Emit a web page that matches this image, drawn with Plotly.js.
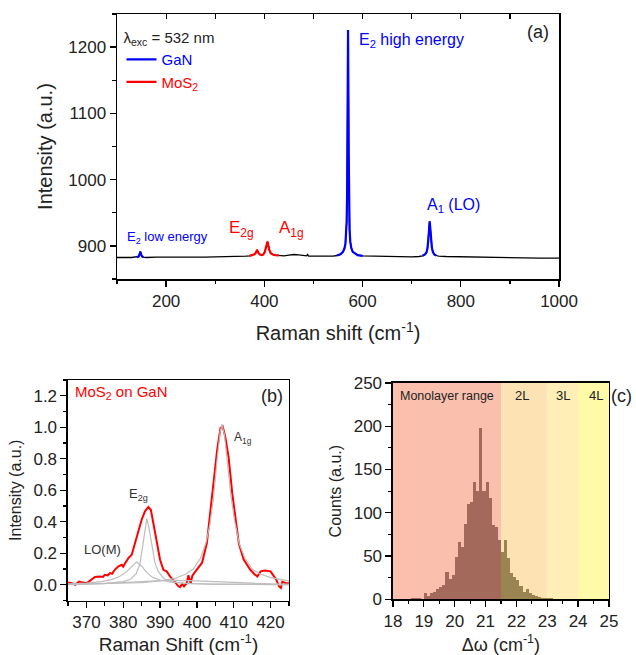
<!DOCTYPE html>
<html>
<head>
<meta charset="utf-8">
<script src="https://cdn.plot.ly/plotly-3.0.1.min.js"></script>
<style>html,body{margin:0;padding:0;background:#fff;}#chart{width:636px;height:655px;}</style>
</head>
<body>
<div id="chart"></div>
<script>
// ---------- Panel (a): Raman spectrum ----------
const specX = [100,110,120,130,140,144,146,147.5,149,151,154,160,180,200,220,240,260,280,300,320,340,355,
  362,370,376,380,383,385,386.5,388,391,395,398,401,403,405,406.5,408,410,413,417,422,430,440,
  450,460,470,480,486,488,490,500,520,540,548,555,560,563,565,566.5,567.5,568.5,569.3,570,570.4,
  571,571.7,572.5,573.5,575,577,580,585,590,600,620,640,660,680,700,715,722,727,730,732,734,735.5,
  736.5,737.5,739,741,743,746,750,755,770,800,830,860,900,930,960,1000];
const specY = [882.5,882,882.5,882.5,883,884,888,891.5,887,884,883,882.5,883,882.5,883,883,882.5,883,883.5,883.5,884,884,
  884.5,885,886,887.5,890,894,892,889,887,886,887,891,897,904,906.5,901,894,889,887,886,885.5,885,
  886,887,886.5,885,885,887,884.5,884.5,884,884.5,885.5,887.5,891,896,903,915,935,980,1080,1190,1226,
  1150,1040,960,925,906,897,891,888,886,885,884.5,884,884,883.5,883.5,884,885,887,890,896,910,928,
  937,930,912,898,891,887,885.5,884.5,884,883.5,883,882.5,882,882,881.5,881.5];
const ganRanges = [[140,154],[541,600],[719,753]];
const mos2Ranges = [[363,438]];

// ---------- Panel (b): MoS2 on GaN ----------
const bX = [365,366,367,368,369,370,370.5,371.4,372.3,373.6,374.5,375,375.8,376.4,377,377.7,378.6,379.6,380,380.5,
  381.4,382.3,383.2,384.1,385,385.9,386.8,387.5,388.2,389.1,390,390.9,391.8,392.7,393.5,394.1,395,395.4,396,396.5,
  397.2,397.7,398.3,398.8,399.4,400,401.4,402.7,403.6,404.5,405.5,406.4,407,407.7,408.6,409.6,410.5,411.4,412.7,
  414.5,415.5,416.4,417.3,418.5,420,420.9,421.6,422.3,422.8,423.2,424.1,425];
const bY = [0.015,0.01,0.0,0.02,0.015,0.01,0.017,0.036,0.049,0.053,0.05,0.063,0.06,0.074,0.07,0.095,0.116,0.127,0.115,0.137,
  0.169,0.19,0.265,0.35,0.413,0.466,0.493,0.476,0.39,0.265,0.159,0.095,0.085,0.053,0.03,0.01,-0.01,-0.015,0.005,-0.01,
  0.01,0.06,0.01,0.06,0.08,0.095,0.14,0.265,0.455,0.667,0.857,0.995,1.005,0.94,0.81,0.58,0.41,0.26,0.16,
  0.095,0.07,0.053,0.085,0.09,0.085,0.053,0.03,-0.01,-0.02,0.02,0.01,0.01];
const fitBgX = [365,375,385,392,398,405,415,425];
const fitBgY = [0.0,0.008,0.02,0.028,0.026,0.02,0.01,0.004];
const fitLOX = [365,370,374,377,379,381,382.5,383.6,385,386.5,388,390,393,398,405,415,425];
const fitLOY = [0.004,0.01,0.02,0.034,0.052,0.085,0.12,0.144,0.118,0.075,0.047,0.03,0.016,0.008,0.004,0.002,0.001];
const fitE2gX = [365,375,380,382,383.5,384.5,385.3,386,386.4,387,387.8,388.6,389.5,391,393,397,405,425];
const fitE2gY = [0.002,0.007,0.02,0.035,0.07,0.13,0.25,0.38,0.42,0.36,0.24,0.14,0.085,0.04,0.02,0.008,0.003,0.001];
const fitA1gX = [365,375,385,390,394,397,399,401,402.5,403.5,404.5,405.5,406.3,406.8,407.5,408.3,409.2,410.2,411.5,413,415,417,420,425];
const fitA1gY = [0.004,0.007,0.014,0.024,0.04,0.068,0.1,0.17,0.27,0.38,0.55,0.8,0.97,1.02,0.95,0.77,0.57,0.41,0.26,0.17,0.1,0.07,0.045,0.025];

// ---------- Panel (c): histogram of delta omega ----------
const binStart = [18.6,18.7,18.8,18.9,19.0,19.1,19.2,19.3,19.4,19.5,19.6,19.7,19.8,19.9,20.0,20.1,20.2,20.3,20.4,20.5,
  20.6,20.7,20.8,20.9,21.0,21.1,21.2,21.3,21.4,21.5,21.6,21.7,21.8,21.9,22.0,22.1,22.2,22.3,22.4,22.5,22.6,22.7,22.8,22.9,23.0,23.1];
const binCounts = [1,1,1,0,7,4,7,9,12,14,17,31,23,28,49,66,60,87,110,112,
  136,125,198,125,135,117,86,83,69,55,69,48,30,26,22,15,8,12,7,5,4,3,2,1,2,2];
const binWidth = 0.1;
const bandEdges = [18, 21.5, 23, 24, 25];
const bandLabels = ['Monolayer range', '2L', '3L', '4L'];
const bandColors = ['#fbbfae', '#fde2b3', '#ffefb6', '#fffaa8'];

// ---------- build ----------
const FONT = 'Liberation Sans, Arial, sans-serif';
function inRanges(x, ranges){ return ranges.some(r => x >= r[0] && x <= r[1]); }
const ganY = specX.map((x,i) => inRanges(x, ganRanges) ? specY[i] : null);
const mosY = specX.map((x,i) => inRanges(x, mos2Ranges) ? specY[i] : null);

const traces = [
  {x: specX, y: specY, xaxis:'x', yaxis:'y', mode:'lines', line:{color:'#000', width:1.3}, showlegend:false, hoverinfo:'skip'},
  {x: specX, y: ganY, xaxis:'x', yaxis:'y', mode:'lines', line:{color:'#0000ff', width:2.2}, connectgaps:false,
   name:'<span style="color:#0000ff">GaN</span>'},
  {x: specX, y: mosY, xaxis:'x', yaxis:'y', mode:'lines', line:{color:'#ff0000', width:2.2}, connectgaps:false,
   name:'<span style="color:#ff0000">MoS<sub>2</sub></span>'},
  {x: [], y: [], xaxis:'x4', yaxis:'y', showlegend:false, hoverinfo:'skip'},
  {x: bX, y: bY, xaxis:'x2', yaxis:'y2', mode:'lines', line:{color:'#ff0000', width:2}, showlegend:false},
  {x: fitBgX, y: fitBgY, xaxis:'x2', yaxis:'y2', mode:'lines', line:{color:'#bdbdbd', width:1.2, shape:'spline'}, showlegend:false},
  {x: fitLOX, y: fitLOY, xaxis:'x2', yaxis:'y2', mode:'lines', line:{color:'#bdbdbd', width:1.2}, showlegend:false},
  {x: fitE2gX, y: fitE2gY, xaxis:'x2', yaxis:'y2', mode:'lines', line:{color:'#bdbdbd', width:1.2}, showlegend:false},
  {x: fitA1gX, y: fitA1gY, xaxis:'x2', yaxis:'y2', mode:'lines', line:{color:'#bdbdbd', width:1.2}, showlegend:false},
  {type:'bar', x: binStart.map(b => b + binWidth/2), y: binCounts, width: binWidth, xaxis:'x3', yaxis:'y3',
   marker:{color: binStart.map(b => (b + binWidth/2) < bandEdges[1] ? '#a3695a' : '#9a8552'), line:{width:0}}, showlegend:false}
];

const axBase = {
  showline:true, linecolor:'#000', linewidth:1.5, mirror:true, showgrid:false, zeroline:false,
  ticks:'outside', ticklen:6, tickwidth:1.3, tickcolor:'#000',
  tickfont:{family:FONT, size:17, color:'#222'}
};
function ax(o){ return Object.assign({}, axBase, o); }

const shapes = [];
for (let i = 0; i < bandLabels.length; i++) {
  shapes.push({type:'rect', xref:'x3', yref:'y3', x0:bandEdges[i], x1:bandEdges[i+1], y0:0, y1:250,
    fillcolor:bandColors[i], line:{width:0}, layer:'below'});
}

const annotations = [
  {xref:'x', yref:'y', x:589, y:1210, xanchor:'left', yanchor:'middle', showarrow:false,
   text:'E<sub>2</sub> high energy', font:{family:FONT, size:16, color:'#0000ff'}},
  {xref:'x', yref:'y', x:727, y:961, xanchor:'left', yanchor:'middle', showarrow:false,
   text:'A<sub>1</sub> (LO)', font:{family:FONT, size:16, color:'#0000ff'}},
  {xref:'x', yref:'y', x:117, y:913, xanchor:'left', yanchor:'middle', showarrow:false,
   text:'E<sub>2</sub> low energy', font:{family:FONT, size:13, color:'#0000ff'}},
  {xref:'x', yref:'y', x:324, y:926, xanchor:'left', yanchor:'middle', showarrow:false,
   text:'E<sub>2g</sub>', font:{family:FONT, size:17, color:'#ff0000'}},
  {xref:'x', yref:'y', x:425, y:926, xanchor:'left', yanchor:'middle', showarrow:false,
   text:'A<sub>1g</sub>', font:{family:FONT, size:17, color:'#ff0000'}},
  {xref:'x', yref:'y', x:958, y:1223, xanchor:'center', yanchor:'middle', showarrow:false,
   text:'(a)', font:{family:FONT, size:18, color:'#222'}},

  {xref:'x2', yref:'y2', x:366.3, y:1.22, xanchor:'left', yanchor:'middle', showarrow:false,
   text:'MoS<sub>2</sub> on GaN', font:{family:FONT, size:15, color:'#ff0000'}},
  {xref:'x2', yref:'y2', x:420.5, y:1.2, xanchor:'center', yanchor:'middle', showarrow:false,
   text:'(b)', font:{family:FONT, size:18, color:'#222'}},
  {xref:'x2', yref:'y2', x:409.6, y:0.93, xanchor:'left', yanchor:'middle', showarrow:false,
   text:'A<sub>1g</sub>', font:{family:FONT, size:12, color:'#333'}},
  {xref:'x2', yref:'y2', x:380.9, y:0.57, xanchor:'left', yanchor:'middle', showarrow:false,
   text:'E<sub>2g</sub>', font:{family:FONT, size:13, color:'#333'}},
  {xref:'x2', yref:'y2', x:368.9, y:0.222, xanchor:'left', yanchor:'middle', showarrow:false,
   text:'LO(M)', font:{family:FONT, size:13, color:'#333'}},

  {xref:'x3', yref:'y3', x:18.17, y:235, xanchor:'left', yanchor:'middle', showarrow:false,
   text:bandLabels[0], font:{family:FONT, size:12.5, color:'#222'}},
  {xref:'x3', yref:'y3', x:22.19, y:235, xanchor:'center', yanchor:'middle', showarrow:false,
   text:bandLabels[1], font:{family:FONT, size:13, color:'#222'}},
  {xref:'x3', yref:'y3', x:23.52, y:235, xanchor:'center', yanchor:'middle', showarrow:false,
   text:bandLabels[2], font:{family:FONT, size:13, color:'#222'}},
  {xref:'x3', yref:'y3', x:24.58, y:235, xanchor:'center', yanchor:'middle', showarrow:false,
   text:bandLabels[3], font:{family:FONT, size:13, color:'#222'}},
  {xref:'paper', yref:'paper', x:0.9777, y:0.3954, xanchor:'center', yanchor:'middle', showarrow:false,
   text:'(c)', font:{family:FONT, size:18, color:'#222'}}
];

const layout = {
  width:636, height:655, margin:{l:0, r:0, t:0, b:0}, paper_bgcolor:'#fff', plot_bgcolor:'rgba(0,0,0,0)',
  font:{family:FONT, color:'#222'}, bargap:0, showlegend:true,
  legend:{x:0.191, y:0.964, xanchor:'left', yanchor:'top', bgcolor:'rgba(0,0,0,0)', borderwidth:0,
    font:{family:FONT, size:15}, tracegroupgap:0,
    title:{text:'λ<sub>exc</sub> = 532 nm', font:{family:FONT, size:15, color:'#222'}}},
  xaxis: ax({domain:[0.184,0.879], anchor:'y', range:[100,1000], dtick:200, tick0:0,
    minor:{dtick:100, ticks:'outside', ticklen:3.5, tickwidth:1.2, tickcolor:'#000'},
    title:{text:'Raman shift (cm<sup>-1</sup>)', font:{family:FONT, size:20, color:'#222'}, standoff:16}}),
  xaxis4: {overlaying:'x', anchor:'y', side:'top', range:[100,1000], dtick:100, tick0:0, ticks:'inside',
    ticklen:5, tickwidth:1.2, tickcolor:'#000', showticklabels:false, showline:false, showgrid:false, zeroline:false},
  yaxis: ax({domain:[0.574,0.9786], anchor:'x', range:[850,1250], dtick:100, tick0:0,
    minor:{dtick:50, ticks:'outside', ticklen:3.5, tickwidth:1.2, tickcolor:'#000'},
    title:{text:'Intensity (a.u.)', font:{family:FONT, size:20, color:'#222'}, standoff:10}}),
  xaxis2: ax({domain:[0.1069,0.4544], anchor:'y2', range:[365,425], dtick:10, tick0:0,
    minor:{dtick:5, ticks:'outside', ticklen:3.5, tickwidth:1.2, tickcolor:'#000'},
    title:{text:'Raman Shift (cm<sup>-1</sup>)', font:{family:FONT, size:19, color:'#222'}, standoff:10}}),
  yaxis2: ax({domain:[0.0832,0.4198], anchor:'x2', range:[-0.1,1.3], dtick:0.2, tick0:0, tickformat:'.1f',
    minor:{dtick:0.1, ticks:'outside', ticklen:3.5, tickwidth:1.2, tickcolor:'#000'},
    title:{text:'Intensity (a.u.)', font:{family:FONT, size:16, color:'#222'}, standoff:8}}),
  xaxis3: ax({domain:[0.6179,0.9575], anchor:'y3', range:[18,25], dtick:1, tick0:0,
    minor:{dtick:0.5, ticks:'outside', ticklen:3.5, tickwidth:1.2, tickcolor:'#000'},
    title:{text:'Δω (cm<sup>-1</sup>)', font:{family:FONT, size:18, color:'#222'}, standoff:10}}),
  yaxis3: ax({domain:[0.0850,0.4153], anchor:'x3', range:[0,250], dtick:50, tick0:0,
    minor:{dtick:25, ticks:'outside', ticklen:3.5, tickwidth:1.2, tickcolor:'#000'},
    title:{text:'Counts (a.u.)', font:{family:FONT, size:16, color:'#222'}, standoff:8}}),
  shapes: shapes,
  annotations: annotations
};

Plotly.newPlot('chart', traces, layout, {staticPlot:true, displayModeBar:false});
</script>
</body>
</html>
